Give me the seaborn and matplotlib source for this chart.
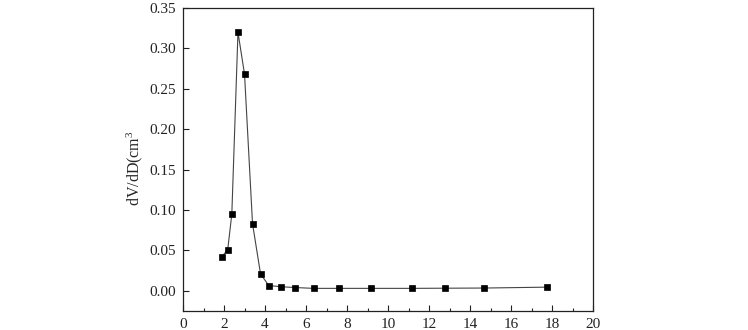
import matplotlib
matplotlib.use("Agg")
import matplotlib.pyplot as plt
import seaborn as sns
import pandas as pd
from matplotlib.ticker import MultipleLocator

pore_diameter = [1.89, 2.18, 2.38, 2.68, 3.00, 3.39, 3.78, 4.18, 4.80, 5.48,
                 6.38, 7.60, 9.17, 11.17, 12.77, 14.67, 17.74]
dv_dd = [0.042, 0.051, 0.095, 0.320, 0.268, 0.083, 0.021, 0.0065, 0.005, 0.004,
         0.003, 0.003, 0.003, 0.003, 0.0032, 0.0034, 0.0045]
x_ticks = [0, 2, 4, 6, 8, 10, 12, 14, 16, 18, 20]
y_ticks = [0.00, 0.05, 0.10, 0.15, 0.20, 0.25, 0.30, 0.35]

df = pd.DataFrame({"D": pore_diameter, "dVdD": dv_dd})

sns.set_style("ticks")
plt.rcParams["font.family"] = ["Liberation Serif", "DejaVu Serif"]
plt.rcParams["mathtext.fontset"] = "custom"
plt.rcParams["mathtext.rm"] = "Liberation Serif"
plt.rcParams["mathtext.it"] = "Liberation Serif:italic"

fig = plt.figure(figsize=(7.48, 3.30), dpi=100)
ax = fig.add_axes([0.2447, 0.0576, 0.5481, 0.9182])

sns.lineplot(data=df, x="D", y="dVdD", ax=ax, color="#444444", linewidth=0.8,
             marker="s", markersize=5, markerfacecolor="black",
             markeredgecolor="black", markeredgewidth=0.5)

ax.set_xlim(0, 20)
ax.set_ylim(-0.025, 0.35)
ax.set_xticks(x_ticks)
ax.set_yticks(y_ticks)
ax.set_xticklabels([str(t) for t in x_ticks])
ax.set_yticklabels([f"{t:.2f}" for t in y_ticks])
ax.xaxis.set_minor_locator(MultipleLocator(1))
ax.tick_params(axis="both", which="major", direction="in", length=4,
               width=0.8, labelsize=11, colors="#222222", pad=5)
ax.tick_params(axis="x", which="minor", direction="in", length=2.5, width=0.8)
ax.tick_params(top=False, right=False)
for s in ax.spines.values():
    s.set_linewidth(0.9)
    s.set_color("#222222")

ax.set_xlabel("")
ax.set_ylabel(r"dV/dD(cm$^3$", fontsize=11.5)
ax.yaxis.set_label_coords(-0.092, 0.47)

fig.savefig("out.png", dpi=100)
